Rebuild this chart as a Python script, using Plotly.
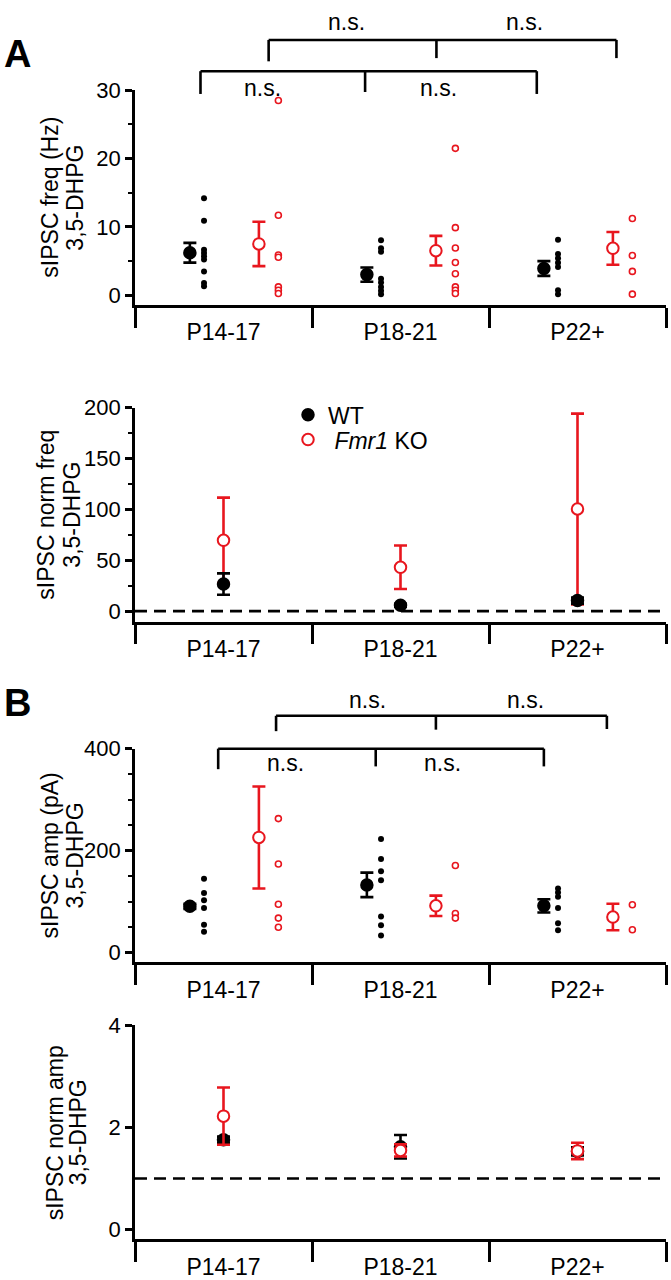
import plotly.graph_objects as go

# ---------------- data ----------------
categories = ["P14-17", "P18-21", "P22+"]

# Panel A top: sIPSC frequency (Hz)
freq_wt_mean = [6.2, 3.0, 3.9]
freq_wt_sem = [1.45, 1.05, 1.08]
freq_ko_mean = [7.5, 6.5, 6.85]
freq_ko_sem = [3.25, 2.17, 2.4]
freq_wt_cells_p14 = [14.2, 10.9, 6.65, 6.17, 5.69, 5.2, 3.47, 1.78, 1.30]
freq_wt_cells_p18 = [8.05, 6.85, 6.36, 2.41, 1.83, 1.2, 0.63, 0.14]
freq_wt_cells_p22 = [8.1, 6.03, 5.4, 4.73, 4.1, 0.72, 0.14]
freq_ko_cells_p14 = [28.5, 11.7, 5.88, 5.54, 1.2, 0.72, 0.24]
freq_ko_cells_p18 = [21.5, 9.88, 6.9, 4.77, 3.13, 1.2, 0.72, 0.24]
freq_ko_cells_p22 = [11.23, 5.79, 3.47, 0.14]

# Panel A bottom: normalised frequency
nfreq_wt_mean = [26.6, 5.8, 10.4]
nfreq_wt_sem = [10.5, 1.5, 3.0]
nfreq_ko_mean = [69.6, 43.1, 100.4]
nfreq_ko_sem = [42.0, 21.4, 93.8]

# Panel B top: sIPSC amplitude (pA)
amp_wt_mean = [91, 133, 92]
amp_wt_sem = [5, 24, 13]
amp_ko_mean = [226, 92, 70]
amp_ko_sem = [100, 20, 26]
amp_wt_cells_p14 = [145, 117, 103, 88, 55, 41]
amp_wt_cells_p18 = [223, 184, 160, 142, 71, 54, 34]
amp_wt_cells_p22 = [126, 118, 110, 88, 58, 44]
amp_ko_cells_p14 = [263, 174, 95, 68, 50]
amp_ko_cells_p18 = [171, 77, 68]
amp_ko_cells_p22 = [94, 45]

# Panel B bottom: normalised amplitude
namp_wt_mean = [1.76, 1.62, 1.53]
namp_wt_sem = [0.06, 0.23, 0.08]
namp_ko_mean = [2.22, 1.55, 1.54]
namp_ko_sem = [0.56, 0.12, 0.16]

# ---------------- style ----------------
W, H = 671, 1280
RED = "#e8161e"
BLACK = "#000000"
FONT = "Liberation Sans, Arial, Helvetica, sans-serif"
group_x = [0, 1, 2]
WT_MEAN_OFF, WT_PTS_OFF, KO_MEAN_OFF, KO_PTS_OFF = -0.19, -0.11, 0.20, 0.31

X_LEFT, X_RIGHT = 135, 666
panels = [
    # (suffix, top px, axis px, yrange, dtick, minor dtick, title lines, line x centres)
    ("", 79.3, 296.7, [-1.45, 30], 10, 5, ("sIPSC freq (Hz)", "3,5-DHPG"), (50, 75)),
    ("2", 400.7, 617.3, [-10.3, 200], 50, 25, ("sIPSC norm freq", "3,5-DHPG"), (46, 72)),
    ("3", 746.0, 962.3, [-18.6, 400], 200, 50, ("sIPSC amp (pA)", "3,5-DHPG"), (50, 75)),
    ("4", 1026.0, 1243.0, [-0.193, 4], 2, None, ("sIPSC norm amp", "3,5-DHPG"), (55, 78)),
]

fig = go.Figure()


def shift(vals, off):
    return [v + off for v in vals]


def mean_trace(xa, ya, xs, means, sems, color, filled, name, legend=None):
    return go.Scatter(
        x=xs, y=means, xaxis=xa, yaxis=ya, mode="markers", name=name,
        showlegend=legend is not None, legend=legend or "legend",
        marker=dict(symbol="circle", size=11.5,
                    color=color if filled else "white",
                    line=dict(color=color, width=2)),
        error_y=dict(type="data", array=sems, visible=True, color=color,
                     thickness=2.6, width=6.5),
        cliponaxis=False,
    )


def cells_trace(xa, ya, gx, vals, color, filled):
    return go.Scatter(
        x=[gx] * len(vals), y=vals, xaxis=xa, yaxis=ya, mode="markers",
        showlegend=False,
        marker=dict(symbol="circle", size=6,
                    color=color if filled else "white",
                    line=dict(color=color, width=1.6 if not filled else 0)),
        cliponaxis=False,
    )


# A top
fig.add_trace(mean_trace("x", "y", shift(group_x, WT_MEAN_OFF), freq_wt_mean, freq_wt_sem, BLACK, True, "WT"))
fig.add_trace(mean_trace("x", "y", shift(group_x, KO_MEAN_OFF), freq_ko_mean, freq_ko_sem, RED, False, "Fmr1 KO"))
for gx, vals in zip(group_x, [freq_wt_cells_p14, freq_wt_cells_p18, freq_wt_cells_p22]):
    fig.add_trace(cells_trace("x", "y", gx + WT_PTS_OFF, vals, BLACK, True))
for gx, vals in zip(group_x, [freq_ko_cells_p14, freq_ko_cells_p18, freq_ko_cells_p22]):
    fig.add_trace(cells_trace("x", "y", gx + KO_PTS_OFF, vals, RED, False))

# A bottom (legend entries live here)
fig.add_trace(mean_trace("x2", "y2", group_x, nfreq_ko_mean, nfreq_ko_sem, RED, False, " <i>Fmr1</i> KO", "legend2"))
fig.add_trace(mean_trace("x2", "y2", group_x, nfreq_wt_mean, nfreq_wt_sem, BLACK, True, "WT", "legend"))

# B top
fig.add_trace(mean_trace("x3", "y3", shift(group_x, WT_MEAN_OFF), amp_wt_mean, amp_wt_sem, BLACK, True, "WT"))
fig.add_trace(mean_trace("x3", "y3", shift(group_x, KO_MEAN_OFF), amp_ko_mean, amp_ko_sem, RED, False, "Fmr1 KO"))
for gx, vals in zip(group_x, [amp_wt_cells_p14, amp_wt_cells_p18, amp_wt_cells_p22]):
    fig.add_trace(cells_trace("x3", "y3", gx + WT_PTS_OFF, vals, BLACK, True))
for gx, vals in zip(group_x, [amp_ko_cells_p14, amp_ko_cells_p18, amp_ko_cells_p22]):
    fig.add_trace(cells_trace("x3", "y3", gx + KO_PTS_OFF, vals, RED, False))

# B bottom
fig.add_trace(mean_trace("x4", "y4", group_x, namp_wt_mean, namp_wt_sem, BLACK, True, "WT"))
fig.add_trace(mean_trace("x4", "y4", group_x, namp_ko_mean, namp_ko_sem, RED, False, "Fmr1 KO"))

legend_common = dict(xanchor="left", yanchor="middle", bgcolor="rgba(0,0,0,0)",
                     font=dict(size=23), itemwidth=30, borderwidth=0)
layout = dict(
    width=W, height=H, margin=dict(l=0, r=0, t=0, b=0),
    paper_bgcolor="white", plot_bgcolor="white",
    font=dict(family=FONT, size=23, color="black"),
    legend=dict(x=288 / W, y=1 - 408 / H, **legend_common),
    legend2=dict(x=288 / W, y=1 - 433 / H, **legend_common),
    shapes=[], annotations=[],
)

for suf, top, axis_px, yr, dt, mdt, title_lines, title_x in panels:
    xkey = "xaxis" + suf
    ykey = "yaxis" + suf
    xname = "x" + suf
    yname = "y" + suf
    layout[xkey] = dict(
        domain=[X_LEFT / W, X_RIGHT / W], anchor=yname, range=[-0.5, 2.5],
        showline=True, linewidth=2.6, linecolor="black", showgrid=False, zeroline=False,
        tickmode="array", tickvals=group_x, ticktext=categories, ticks="",
        tickfont=dict(size=23), ticklabelstandoff=5,
        minor=dict(tickmode="array", tickvals=[-0.5, 0.5, 1.5, 2.5], ticks="outside",
                   ticklen=20, tickwidth=2.6, tickcolor="black"),
        fixedrange=True,
    )
    ydict = dict(
        domain=[1 - axis_px / H, 1 - top / H], anchor=xname, range=yr,
        showline=True, linewidth=2.6, linecolor="black", showgrid=False, zeroline=False,
        tickmode="linear", tick0=0, dtick=dt, ticks="outside", ticklen=7, tickwidth=3,
        tickcolor="black", tickfont=dict(size=22), fixedrange=True,
    )
    if mdt:
        ydict["minor"] = dict(tick0=0, dtick=mdt, ticks="outside", ticklen=4, tickwidth=2,
                              tickcolor="black")
    layout[ykey] = ydict
    for line_text, lx in zip(title_lines, title_x):
        layout["annotations"].append(dict(
            text=line_text, xref="paper", yref=yname + " domain", x=lx / W, y=0.5,
            xanchor="center", yanchor="middle", textangle=-90, showarrow=False,
            font=dict(size=23),
        ))

# dashed reference lines on normalised panels
layout["shapes"].append(dict(type="line", xref="x2 domain", yref="y2", x0=0, x1=1.0, y0=0, y1=0,
                             line=dict(color="black", width=2.6, dash="12px,7px")))
layout["shapes"].append(dict(type="line", xref="x4 domain", yref="y4", x0=0, x1=1.0, y0=1, y1=1,
                             line=dict(color="black", width=2.6, dash="12px,7px")))


def bracket(xref, yref, xs, yh, drops):
    out = [dict(type="line", xref=xref, yref=yref, x0=xs[0], x1=xs[-1], y0=yh, y1=yh,
                line=dict(color="black", width=2.6))]
    for x, yd in zip(xs, drops):
        out.append(dict(type="line", xref=xref, yref=yref, x0=x, x1=x, y0=yh, y1=yd,
                        line=dict(color="black", width=2.6)))
    return out


# A brackets
layout["shapes"] += bracket("x", "y domain", [-0.13, 0.80, 1.77], 1.089, [0.983, 0.992, 0.983])
layout["shapes"] += bracket("x", "y domain", [0.255, 1.203, 2.22], 1.2346, [1.135, 1.150, 1.150])
# B brackets
layout["shapes"] += bracket("x3", "y3 domain", [-0.03, 0.86, 1.81], 1.0, [0.904, 0.917, 0.917])
layout["shapes"] += bracket("x3", "y3 domain", [0.297, 1.20, 2.166], 1.154, [1.082, 1.089, 1.092])

for xr, yr_, x, y in [("x", "y domain", 0.695, 1.319), ("x", "y domain", 1.698, 1.319),
                      ("x", "y domain", 0.223, 1.012), ("x", "y domain", 1.215, 1.012),
                      ("x3", "y3 domain", 0.816, 1.228), ("x3", "y3 domain", 1.706, 1.228),
                      ("x3", "y3 domain", 0.352, 0.935), ("x3", "y3 domain", 1.24, 0.935)]:
    layout["annotations"].append(dict(text="n.s.", xref=xr, yref=yr_, x=x, y=y,
                                      xanchor="center", yanchor="middle", showarrow=False,
                                      font=dict(size=23)))

for letter, ypx in [("A", 43), ("B", 700)]:
    layout["annotations"].append(dict(text="<b>%s</b>" % letter, xref="paper", yref="paper",
                                      x=17 / W, y=1 - ypx / H, xanchor="center", yanchor="middle",
                                      showarrow=False, font=dict(size=38)))

fig.update_layout(**layout)
fig.write_html("out.html", config={"displayModeBar": False},
               post_script="document.body.style.margin='0';")
